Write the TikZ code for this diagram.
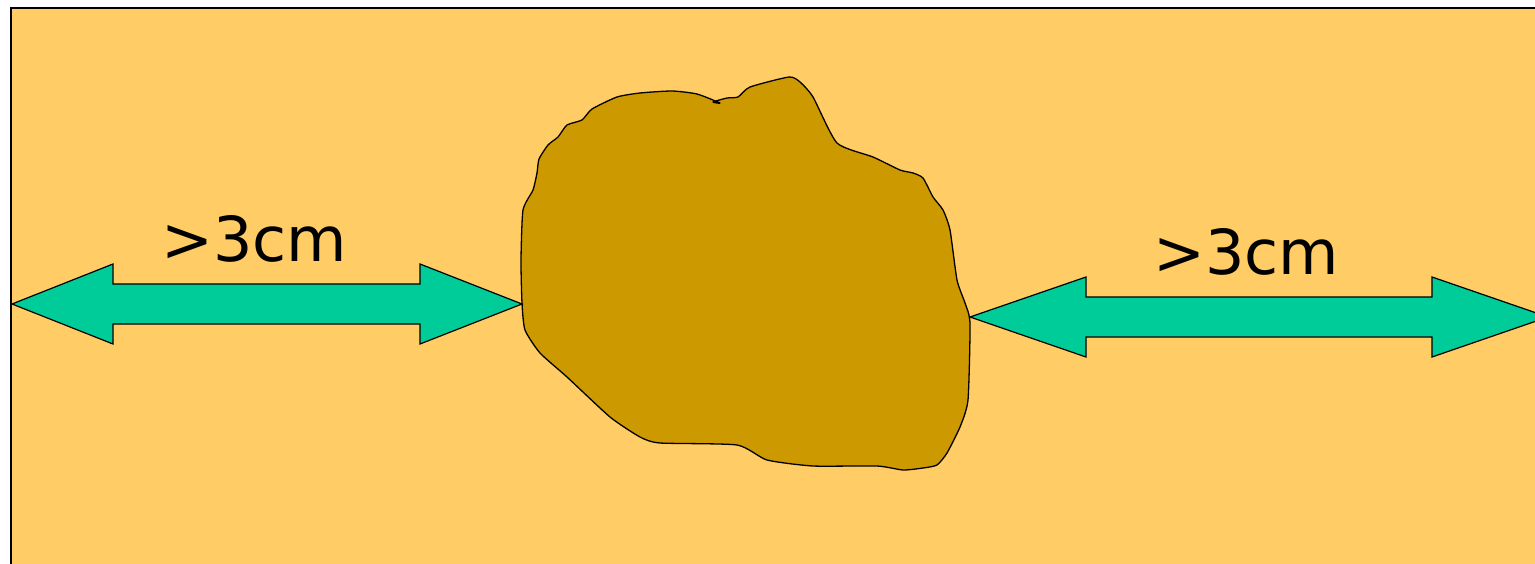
\documentclass[tikz,border=0pt]{standalone}
\usepackage{fontspec}
\setmainfont{DejaVu Sans}
\usetikzlibrary{positioning}

\definecolor{sand}{HTML}{FFCC66}
\definecolor{stone}{HTML}{CC9900}
\definecolor{gap}{HTML}{00CC99}

\begin{document}
\begin{tikzpicture}[
  x=1pt,y=-1pt,
  dblarrow/.style={draw,fill=gap,line width=1.2pt,line join=miter},
  lbl/.style={font=\fontsize{62}{64}\selectfont,inner sep=0pt}
]
  \useasboundingbox (0,0) rectangle (1535,564);
  \clip (0,0) rectangle (1535,564);
  % background
  \draw[fill=sand,line width=2.2pt] (11,8) rectangle (1545,575);
  % stone
  \draw[fill=stone,line width=1.3pt,line join=round] plot[smooth cycle,tension=0.35] coordinates {
    (789,77) (800,82) (813,97) (837,143) (873,157) (900,170) (913,173)
    (923,178) (933,197) (943,210) (950,230) (957,280) (965,303) (970,323)
    (968,400) (960,427) (947,453) (937,465) (923,468) (903,470) (877,466)
    (813,466) (767,460) (737,445) (660,443) (640,437) (610,417) (567,377)
    (540,353) (525,330) (522,303) (521,260) (523,210) (533,190) (537,173)
    (539,159) (548,145) (558,137) (567,125) (582,120) (592,109) (617,97)
    (640,93) (672,91) (697,94) (720,103) (713,102) (727,98) (738,97)
    (750,87)};
  % distance arrows
  \draw[dblarrow] (12,304) -- (113,264) -- (113,284) -- (420,284) -- (420,264)
    -- (522,304) -- (420,344) -- (420,324) -- (113,324) -- (113,344) -- cycle;
  \draw[dblarrow] (970,317) -- (1086,277) -- (1086,297) -- (1432,297) -- (1432,277)
    -- (1548,317) -- (1432,357) -- (1432,337) -- (1086,337) -- (1086,357) -- cycle;
  \node[lbl] (leftgap) at (254,239) {>3cm};
  \node[lbl] (rightgap) at (1246,252) {>3cm};
\end{tikzpicture}
\end{document}
